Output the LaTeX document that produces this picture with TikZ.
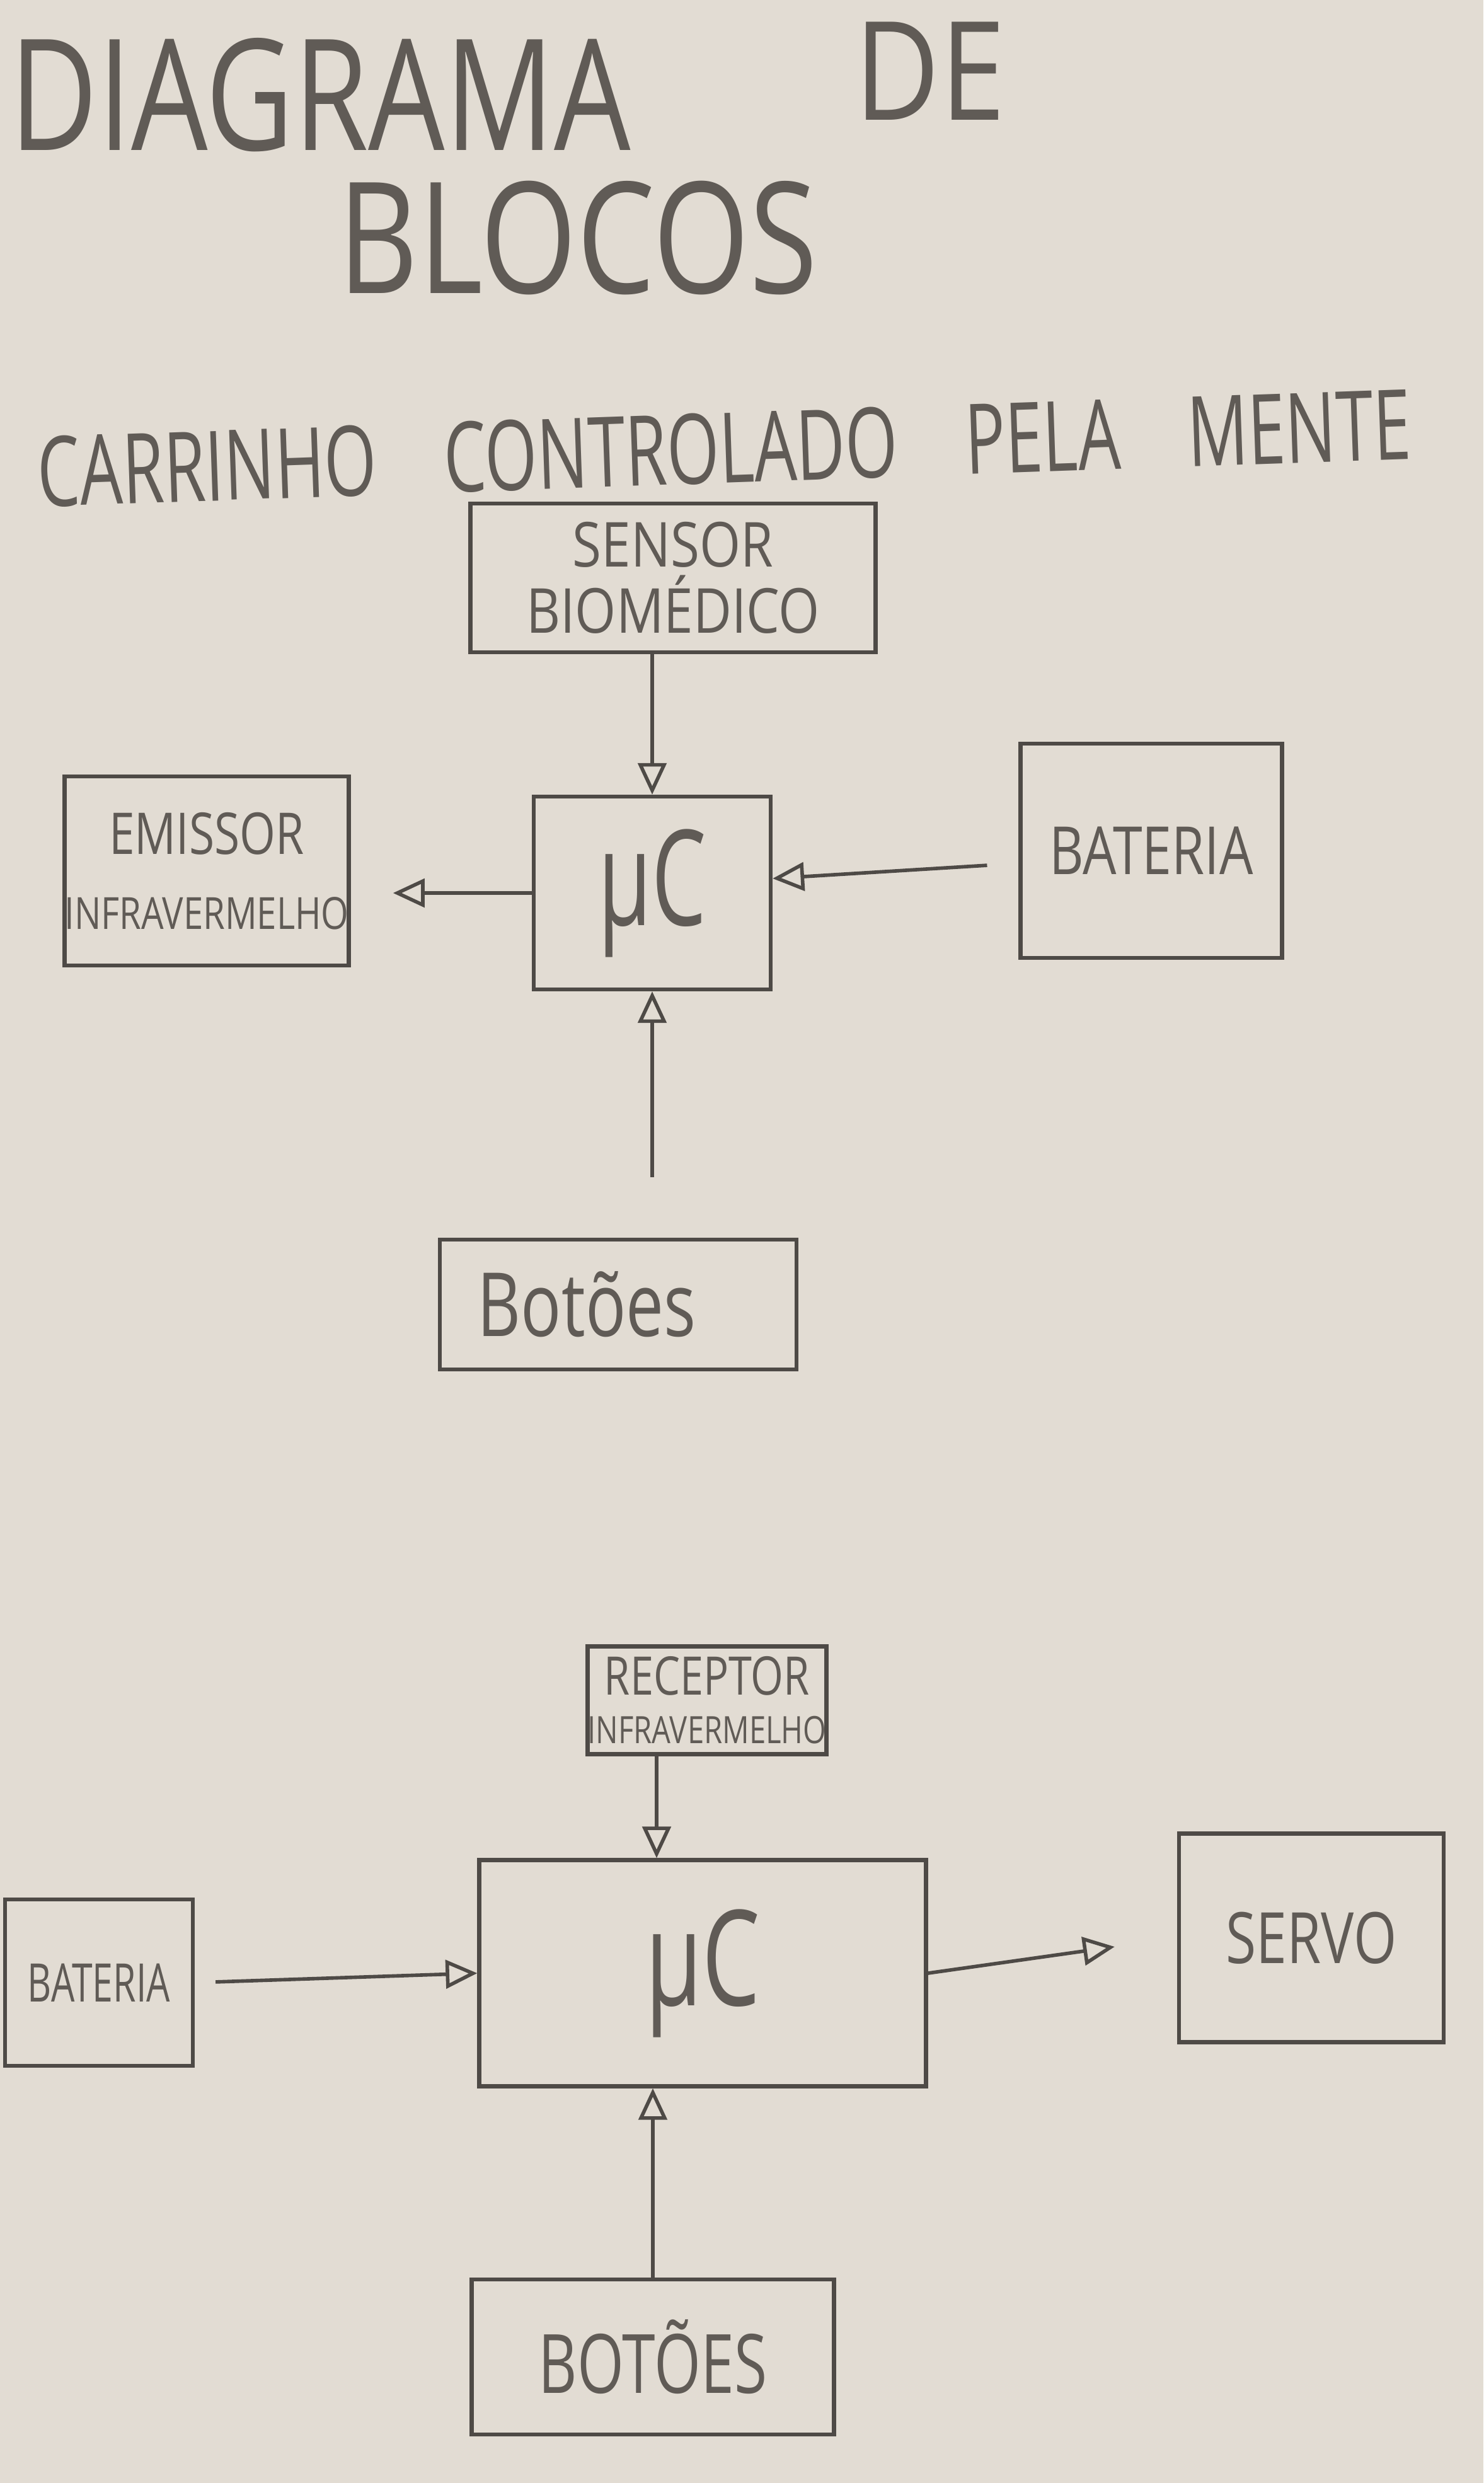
\documentclass[tikz,border=0pt]{standalone}
\usepackage{fontspec}
\setmainfont{Open Sans}
\usepackage{graphicx}
\usetikzlibrary{positioning,arrows.meta}
\definecolor{pencil}{RGB}{78,74,70}
\definecolor{graphite}{RGB}{96,91,86}
\definecolor{paper}{RGB}{226,220,211}
\newcommand{\estreito}[2]{\scalebox{#1}[1]{#2}}

\begin{document}
\begin{tikzpicture}[
  block/.style={rectangle, draw=pencil, line width=1.8pt, text=graphite, align=center, inner sep=0pt},
  line/.style={draw=pencil, line width=1.6pt, -{Triangle[open, length=5mm, width=4.5mm]}},
  hand/.style={text=graphite, inner sep=0pt},
  node distance=5cm
]
\fill[paper] (0,0) rectangle (23.54,-39.40);
\useasboundingbox (0,0) rectangle (23.54,-39.40);

% Title
\node[hand, font=\fontsize{70}{84}\selectfont] (diagrama) at (5.08,-1.51) {\estreito{0.78}{DIAGRAMA}};
\node[hand, font=\fontsize{62}{74}\selectfont] (de) at (14.76,-1.13) {\estreito{0.85}{DE}};
\node[hand, font=\fontsize{70}{84}\selectfont] (blocos) at (9.17,-3.77) {\estreito{0.8}{BLOCOS}};
\node[hand, font=\fontsize{44}{52}\selectfont, rotate=2] (subtitulo) at (11.49,-7.11) {\estreito{0.69}{CARRINHO\quad CONTROLADO\quad PELA\quad MENTE}};

% Transmitter
\node[block, minimum width=6.43cm, minimum height=2.36cm, font=\fontsize{28}{30}\selectfont] (sensor) at (10.68,-9.17) {\estreito{0.85}{SENSOR}\\\estreito{0.85}{BIOMÉDICO}};
\node[block, below of=sensor, node distance=5cm, xshift=-3.3mm, minimum width=3.76cm, minimum height=3.06cm, font=\fontsize{60}{70}\selectfont] (uc1) {\estreito{0.65}{μC}};
\node[block, left of=uc1, node distance=7.07cm, yshift=3.5mm, minimum width=4.4cm, minimum height=3cm, font=\fontsize{26}{34}\selectfont] (emissor) {\estreito{0.8}{EMISSOR}\\\estreito{0.8}{\fontsize{20}{22}\selectfont INFRAVERMELHO}};
\node[block, right of=uc1, node distance=7.92cm, yshift=6.7mm, minimum width=4.15cm, minimum height=3.4cm, font=\fontsize{30}{36}\selectfont] (bateria1) {\estreito{0.8}{BATERIA}};
\node[block, below of=uc1, node distance=6.53cm, xshift=-5.4mm, minimum width=5.66cm, minimum height=2.06cm, font=\fontsize{40}{48}\selectfont] (botoes1) {\estreito{0.76}{Botões}\hspace*{1cm}};

\draw[line] (sensor.south -| uc1) -- (uc1);
\draw[line, shorten >=6.7mm] (uc1.west) -- (uc1.west -| emissor.east);
\draw[line, shorten <=5mm] ([yshift=-2mm]bateria1.west) -- ([yshift=2.3mm]uc1.east);
\draw[line, shorten <=9.6mm] (botoes1.north -| uc1) -- (uc1);

% Receiver
\node[block, minimum width=7.09cm, minimum height=3.59cm, font=\fontsize{60}{70}\selectfont] (uc2) at (11.15,-31.31) {\estreito{0.69}{μC}};
\node[block, above of=uc2, node distance=4.33cm, xshift=0.7mm, minimum width=3.59cm, minimum height=1.71cm, font=\fontsize{24}{22}\selectfont] (receptor) {\estreito{0.79}{RECEPTOR}\\\estreito{0.79}{\fontsize{17}{20}\selectfont INFRAVERMELHO}};
\node[block, left of=uc2, node distance=9.58cm, yshift=-1.5mm, minimum width=2.98cm, minimum height=2.64cm, font=\fontsize{24}{28}\selectfont] (bateria2) {\estreito{0.7}{BATERIA}};
\node[block, right of=uc2, node distance=9.66cm, yshift=5.6mm, minimum width=4.2cm, minimum height=3.31cm, font=\fontsize{32}{38}\selectfont] (servo) {\estreito{0.78}{SERVO}};
\node[block, below of=uc2, node distance=6.09cm, xshift=-7.9mm, minimum width=5.75cm, minimum height=2.46cm, font=\fontsize{37}{44}\selectfont] (botoes2) {\estreito{0.73}{BOTÕES}};

\coordinate (rin) at ([xshift=-8mm]receptor.south);
\draw[line] (rin) -- (rin |- uc2.north);
\draw[line, shorten <=3.3mm] (bateria2.east) -- (uc2.west);
\draw[line, shorten >=1cm] (uc2.east) -- (servo.west);
\draw[line] (botoes2.north) -- (botoes2.north |- uc2.south);
\end{tikzpicture}
\end{document}
